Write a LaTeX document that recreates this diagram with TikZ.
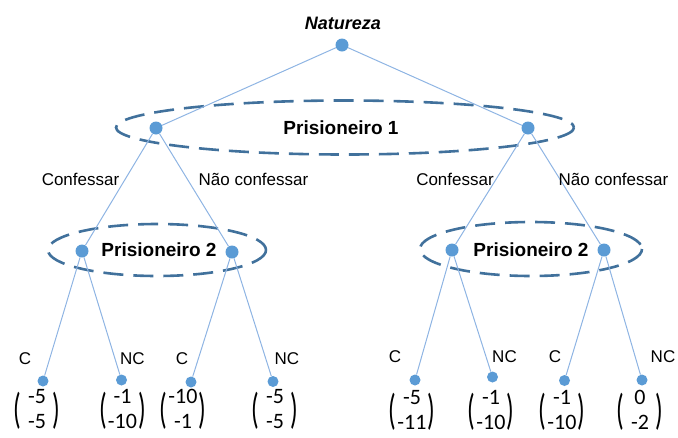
\documentclass[tikz,border=0pt]{standalone}
\usepackage{fontspec}
\usepackage{graphicx}
\setmainfont{Liberation Sans}
\newfontfamily\payfont{Carlito}
\definecolor{dotblue}{HTML}{5B9BD5}
\definecolor{edgeblue}{HTML}{8EB4E3}
\definecolor{dashblue}{HTML}{41719C}
\newcommand\paren[1]{\vcenter{\hbox{\payfont\fontsize{22}{25}\selectfont\scalebox{1.15}[1.95]{#1}}}}
\newcommand\payvec[2]{$\paren{(}\vcenter{\hbox{\payfont\fontsize{22}{25}\selectfont\begin{tabular}{@{}c@{}}\makebox[31pt]{#1}\\\makebox[31pt]{#2}\end{tabular}}}\paren{)}$}
\begin{document}
\begin{tikzpicture}[x=1pt,y=-1pt,
 dot/.style={circle,fill=dotblue,inner sep=0,minimum size=13pt},
 leaf/.style={circle,fill=dotblue,inner sep=0,minimum size=11pt},
 edge/.style={edgeblue,line width=1pt},
 info/.style={dashblue,line width=2.6pt,dash pattern=on 20pt off 10pt},
 act/.style={font=\fontsize{17}{20}\selectfont,inner sep=0},
 player/.style={font=\bfseries\fontsize{19}{22}\selectfont,inner sep=0},
 pay/.style={inner sep=0,font=\fontsize{22}{25}\selectfont}]
\useasboundingbox (0,0) rectangle (678,437);
% information sets
\draw[info] (345,127.5) ellipse [x radius=229, y radius=27];
\draw[info] (157,250) ellipse [x radius=109, y radius=26];
\draw[info] (531,249) ellipse [x radius=111, y radius=27];
% nodes
\node[dot] (root) at (342,45) {};
\node[font=\bfseries\itshape\fontsize{18}{21}\selectfont,inner sep=0] (nat) at (343,23) {Natureza};
\node[dot] (a) at (156,128) {};
\node[dot] (b) at (528,128) {};
\node[player] (p1) at (341,127.5) {Prisioneiro 1};
\node[dot] (aa) at (82,251) {};
\node[dot] (ab) at (232,252) {};
\node[dot] (ba) at (452,250) {};
\node[dot] (bb) at (604,250) {};
\node[player] (p2a) at (159,250) {Prisioneiro 2};
\node[player] (p2b) at (531,250) {Prisioneiro 2};
% leaves
\node[leaf] (l1) at (43,381) {};
\node[leaf] (l2) at (121.5,380) {};
\node[leaf] (l3) at (191,382) {};
\node[leaf] (l4) at (273,381.5) {};
\node[leaf] (l5) at (415,380) {};
\node[leaf] (l6) at (492.5,377) {};
\node[leaf] (l7) at (564.5,380.5) {};
\node[leaf] (l8) at (642,380) {};
% edges
\draw[edge] (root) -- (a);
\draw[edge] (root) -- (b);
\draw[edge] (a) -- (aa);
\draw[edge] (a) -- (ab);
\draw[edge] (b) -- (ba);
\draw[edge] (b) -- (bb);
\draw[edge] (aa) -- (l1);
\draw[edge] (aa) -- (l2);
\draw[edge] (ab) -- (l3);
\draw[edge] (ab) -- (l4);
\draw[edge] (ba) -- (l5);
\draw[edge] (ba) -- (l6);
\draw[edge] (bb) -- (l7);
\draw[edge] (bb) -- (l8);
% action labels
\node[act] (c1) at (80.5,179) {Confessar};
\node[act] (n1) at (253.5,179) {Não confessar};
\node[act] (c2) at (455,179) {Confessar};
\node[act] (n2) at (613.5,179) {Não confessar};
\node[act] (s1) at (25,359) {C};
\node[act] (s2) at (132.5,359) {NC};
\node[act] (s3) at (182,359) {C};
\node[act] (s4) at (287,359) {NC};
\node[act] (s5) at (395,357) {C};
\node[act] (s6) at (504.5,357) {NC};
\node[act] (s7) at (555,357) {C};
\node[act] (s8) at (663,357) {NC};
% payoffs
\node[pay] (v1) at (37,411) {\payvec{-5}{-5}};
\node[pay] (v2) at (122.5,411) {\payvec{-1}{-10}};
\node[pay] (v3) at (183,411) {\payvec{-10}{-1}};
\node[pay] (v4) at (275,411) {\payvec{-5}{-5}};
\node[pay] (v5) at (412,412) {\payvec{-5}{-11}};
\node[pay] (v6) at (491,412) {\payvec{-1}{-10}};
\node[pay] (v7) at (562,412) {\payvec{-1}{-10}};
\node[pay] (v8) at (640,412) {\payvec{0}{-2}};
\end{tikzpicture}
\end{document}
